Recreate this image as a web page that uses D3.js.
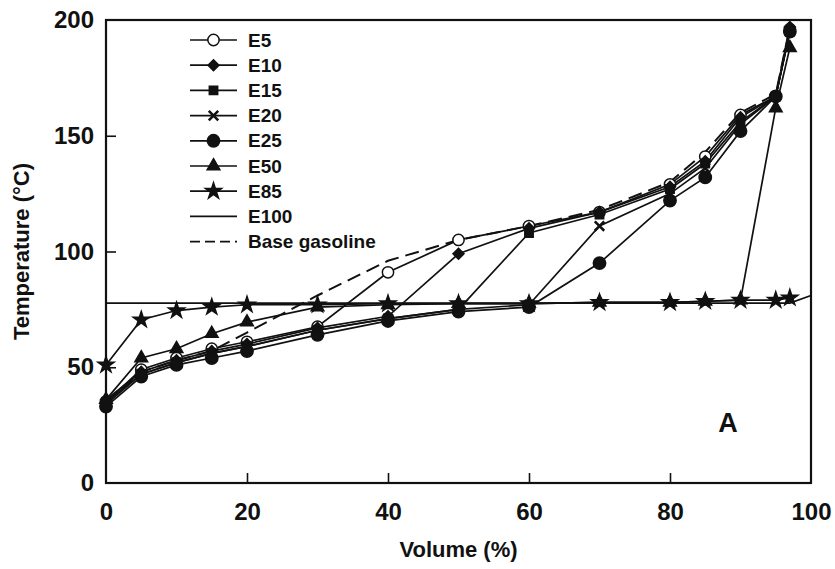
<!DOCTYPE html>
<html>
<head>
<meta charset="utf-8">
<script src="https://cdn.jsdelivr.net/npm/d3@7"></script>
<style>
  body { margin: 0; background: #fff; }
  svg text { font-family: "Liberation Sans", Arial, sans-serif; font-weight: bold; fill: #111; }
</style>
</head>
<body>
<div id="chart"></div>
<script>
// 讀圖估計的數據 (Volume %, Temperature °C)
const volumes = [0, 5, 10, 15, 20, 30, 40, 50, 60, 70, 80, 85, 90, 95, 97];
const baseGasoline = [35, 48, 53, 57, 65, 81, 96, 105, 111, 118, 130, 143, 160, 168, 197];
const e5  = [35, 49, 54, 58, 61, 67.5, 91, 105, 111, 117, 129, 141, 159, 167, 196];
const e10 = [36, 48, 53, 57, 60, 67, 72, 99, 110, 117, 128, 139, 158, 167, 197];
const e15 = [34, 47, 52, 56, 59, 66, 71, 75, 108, 116, 127, 138, 156, 167, 195];
const e20 = [35, 47, 52, 56, 59, 66, 71, 75, 77, 111, 125, 136, 155, 167, 195];
const e25 = [33, 46, 51, 54, 57, 64, 70, 74, 76, 95, 122, 132, 152, 167, 195];
const e50 = [36, 54, 58, 64.5, 69.5, 76, 77, 77.5, 77.5, 78, 78, 78.5, 79, 162, 188];
const e85 = [51, 70.5, 74.5, 76, 77, 77, 77.5, 77.5, 77.5, 78, 78, 78.5, 79, 79, 80];
const e100Volumes = [0, 97, 100];
const e100 = [77.7, 77.7, 81];

const xTicks = [0, 20, 40, 60, 80, 100];
const yTicks = [0, 50, 100, 150, 200];

const series = [
    { name: "E5",  vols: volumes, temps: e5,  symbol: d3.symbolCircle,   size: 100, rot: 0,  fill: "#fff", dash: null },
    { name: "E10", vols: volumes, temps: e10, symbol: d3.symbolSquare,   size: 60,  rot: 45, fill: "#111", dash: null },
    { name: "E15", vols: volumes, temps: e15, symbol: d3.symbolSquare,   size: 70,  rot: 0,  fill: "#111", dash: null },
    { name: "E20", vols: volumes, temps: e20, symbol: d3.symbolTimes,    size: 60,  rot: 0,  fill: "none", dash: null },
    { name: "E25", vols: volumes, temps: e25, symbol: d3.symbolCircle,   size: 120, rot: 0,  fill: "#111", dash: null },
    { name: "E50", vols: volumes, temps: e50, symbol: d3.symbolTriangle, size: 70,  rot: 0,  fill: "#111", dash: null },
    { name: "E85", vols: volumes, temps: e85, symbol: d3.symbolStar,     size: 80,  rot: 0,  fill: "#111", dash: null },
    { name: "E100", vols: e100Volumes, temps: e100, symbol: null, size: 0, rot: 0, fill: "none", dash: null },
    { name: "Base gasoline", vols: volumes, temps: baseGasoline, symbol: null, size: 0, rot: 0, fill: "none", dash: "14,7" }
];

const width = 835, height = 569;
const margin = { top: 20, right: 24, bottom: 86, left: 106 };

const svg = d3.select("#chart").append("svg")
    .attr("width", width)
    .attr("height", height);

const x = d3.scaleLinear().domain([0, 100]).range([margin.left, width - margin.right]);
const y = d3.scaleLinear().domain([0, 200]).range([height - margin.bottom, margin.top]);

// 外框
svg.append("rect")
    .attr("x", x(0)).attr("y", y(200))
    .attr("width", x(100) - x(0)).attr("height", y(0) - y(200))
    .attr("fill", "none").attr("stroke", "#111").attr("stroke-width", 2.2);

// 座標軸 (刻度朝內)
const xAxis = svg.append("g")
    .attr("transform", `translate(0,${y(0)})`)
    .call(d3.axisBottom(x).tickValues(xTicks).tickSizeInner(-10).tickSizeOuter(0).tickPadding(20));
const yAxis = svg.append("g")
    .attr("transform", `translate(${x(0)},0)`)
    .call(d3.axisLeft(y).tickValues(yTicks).tickSizeInner(-10).tickSizeOuter(0).tickPadding(12));

[xAxis, yAxis].forEach(g => {
    g.select(".domain").remove();
    g.selectAll(".tick line").attr("stroke", "#111").attr("stroke-width", 1.6);
    g.selectAll(".tick text").attr("font-size", 24).attr("fill", "#111");
});
xAxis.selectAll(".tick").filter(d => d === 0 || d === 100).select("line").remove();
yAxis.selectAll(".tick").filter(d => d === 0 || d === 200).select("line").remove();

// 軸標題
svg.append("text")
    .attr("x", (x(0) + x(100)) / 2)
    .attr("y", 557)
    .attr("text-anchor", "middle")
    .attr("font-size", 22)
    .text("Volume (%)");

svg.append("text")
    .attr("transform", `translate(29,${(y(0) + y(200)) / 2}) rotate(-90)`)
    .attr("text-anchor", "middle")
    .attr("font-size", 22)
    .text("Temperature (°C)");

svg.append("text")
    .attr("x", 728).attr("y", 432)
    .attr("text-anchor", "middle")
    .attr("font-size", 27)
    .text("A");

// 曲線
const line = d3.line()
    .x(d => x(d[0]))
    .y(d => y(d[1]));

const plot = svg.append("g");

series.forEach(s => {
    const pts = s.vols.map((v, i) => [v, s.temps[i]]);
    plot.append("path")
        .attr("d", line(pts))
        .attr("fill", "none")
        .attr("stroke", "#111")
        .attr("stroke-width", s.dash ? 2 : 1.7)
        .attr("stroke-dasharray", s.dash);
});

series.forEach(s => {
    if (!s.symbol) return;
    const pts = s.vols.map((v, i) => [v, s.temps[i]]);
    plot.selectAll(null)
        .data(pts)
        .enter()
        .append("path")
        .attr("transform", d => `translate(${x(d[0])},${y(d[1])}) rotate(${s.rot})`)
        .attr("d", d3.symbol().type(s.symbol).size(s.size))
        .attr("fill", s.fill)
        .attr("stroke", "#111")
        .attr("stroke-width", s.fill === "none" ? 2.6 : 1.5);
});

// 圖例
const legend = svg.append("g").attr("transform", "translate(190,40)");
series.forEach((s, i) => {
    const row = legend.append("g").attr("transform", `translate(0,${i * 25.2})`);
    row.append("line")
        .attr("x1", 0).attr("x2", 47)
        .attr("y1", 0).attr("y2", 0)
        .attr("stroke", "#111")
        .attr("stroke-width", 1.7)
        .attr("stroke-dasharray", s.dash ? "10,5" : null);
    if (s.symbol) {
        row.append("path")
            .attr("transform", `translate(23.5,0) rotate(${s.rot})`)
            .attr("d", d3.symbol().type(s.symbol).size(s.size))
            .attr("fill", s.fill)
            .attr("stroke", "#111")
            .attr("stroke-width", s.fill === "none" ? 2.6 : 1.5);
    }
    row.append("text")
        .attr("x", 58)
        .attr("y", 0)
        .attr("dy", "0.35em")
        .attr("font-size", 19)
        .text(s.name);
});
</script>
</body>
</html>
